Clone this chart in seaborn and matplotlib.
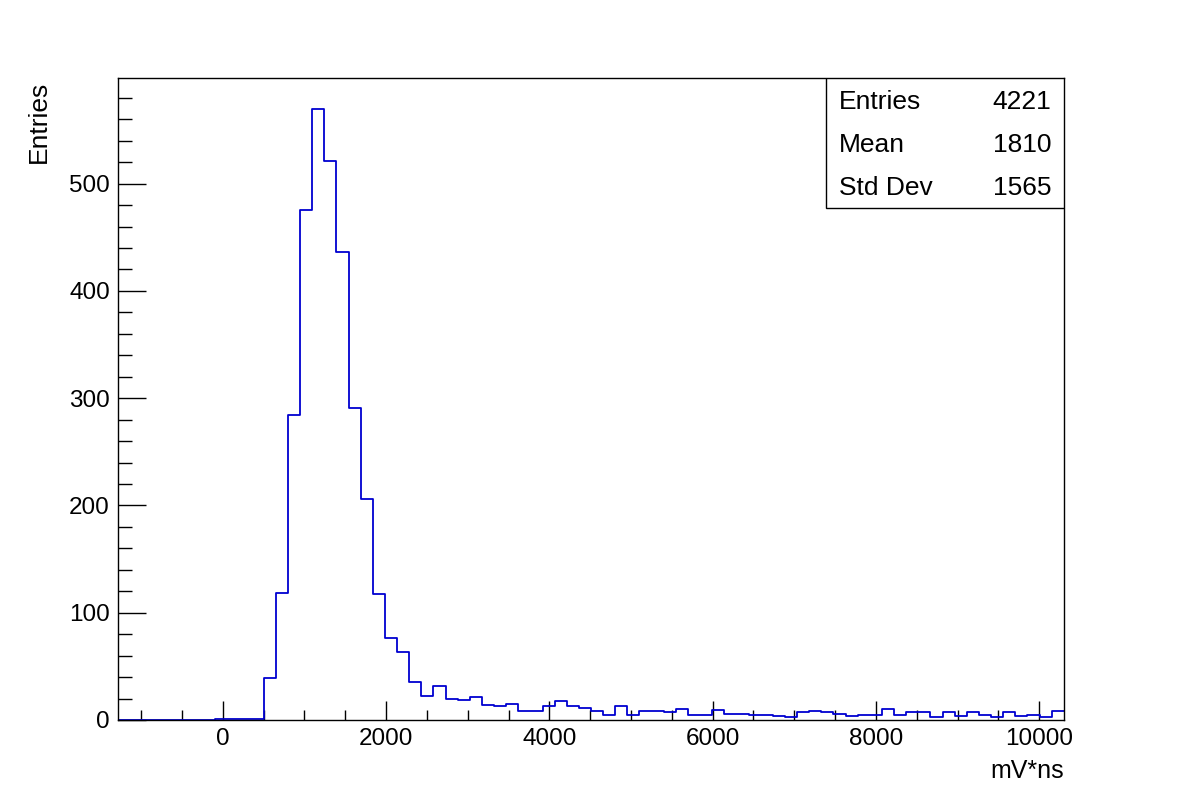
import numpy as np
import pandas as pd
import matplotlib
matplotlib.use("Agg")
import matplotlib.pyplot as plt
import seaborn as sns
from matplotlib.patches import Rectangle
from matplotlib.ticker import MultipleLocator

# --- histogram data ---
X_LOW, X_HIGH, N_BINS = -1280, 10300, 78
Y_MAX = 598.5
counts = [
    0, 0, 0, 0, 0, 0, 0, 0, 1, 1, 1, 1,
    39, 118, 284, 475, 570, 521, 436, 291, 206, 117, 76, 63,
    35, 22, 32, 20, 19, 21, 14, 13, 15, 8, 8, 13, 18, 13, 11, 8,
    5, 13, 5, 8, 8, 7, 10, 5, 5, 9, 6, 6, 5, 5, 4, 3, 7, 8,
    7, 6, 4, 5, 5, 10, 5, 7, 7, 3, 7, 4, 7, 5, 3, 7, 4, 5, 3, 8,
]
stat_names = ["Entries", "Mean", "Std Dev"]
stat_values = ["4221", "1810", "1565"]

sns.set_style("white")
plt.rcParams["font.family"] = ["Liberation Sans", "DejaVu Sans"]
plt.rcParams["text.color"] = "black"
plt.rcParams["axes.labelcolor"] = "black"
plt.rcParams["xtick.color"] = "black"
plt.rcParams["ytick.color"] = "black"

edges = np.linspace(X_LOW, X_HIGH, N_BINS + 1)
df = pd.DataFrame({
    "center": 0.5 * (edges[:-1] + edges[1:]),
    "count": np.asarray(counts, dtype=float),
})

fig = plt.figure(figsize=(11.82, 8), dpi=100)
ax = fig.add_axes([0.1, 0.1, 0.8, 0.8025])

sns.histplot(data=df, x="center", weights="count", bins=N_BINS,
             binrange=(X_LOW, X_HIGH), element="step",
             fill=False, color="#0000d0", linewidth=1.3, ax=ax)

ax.set_xlim(X_LOW, X_HIGH)
ax.set_ylim(0, Y_MAX)

for side in ["left", "right", "top", "bottom"]:
    ax.spines[side].set_color("black")
    ax.spines[side].set_linewidth(1.0)

ax.xaxis.set_major_locator(MultipleLocator(2000))
ax.xaxis.set_minor_locator(MultipleLocator(500))
ax.yaxis.set_major_locator(MultipleLocator(100))
ax.yaxis.set_minor_locator(MultipleLocator(20))
ax.tick_params(axis="x", which="major", direction="in", length=13.5, width=1,
               labelsize=17.5, pad=6, bottom=True, top=False)
ax.tick_params(axis="x", which="minor", direction="in", length=7, width=1,
               bottom=True, top=False)
ax.tick_params(axis="y", which="major", direction="in", length=20, width=1,
               labelsize=17.5, pad=6, left=True, right=False)
ax.tick_params(axis="y", which="minor", direction="in", length=10, width=1,
               left=True, right=False)

ax.set_xlabel("mV*ns", fontsize=18, loc="right")
ax.xaxis.set_label_coords(1.0, -0.06)
ax.set_ylabel("Entries", fontsize=19, loc="top")
ax.yaxis.set_label_coords(-0.071, 0.995)

# stats box
box = Rectangle((0.748, 0.7975), 0.252, 0.2025, transform=ax.transAxes,
                facecolor="white", edgecolor="black", linewidth=1.0, zorder=5)
ax.add_patch(box)
rows_y = [0.9626, 0.8956, 0.8287]
for name, val, y in zip(stat_names, stat_values, rows_y):
    ax.text(0.762, y, name, transform=ax.transAxes, fontsize=19,
            ha="left", va="center", zorder=6)
    ax.text(0.987, y, val, transform=ax.transAxes, fontsize=19,
            ha="right", va="center", zorder=6)

fig.savefig("out.png", dpi=100)
